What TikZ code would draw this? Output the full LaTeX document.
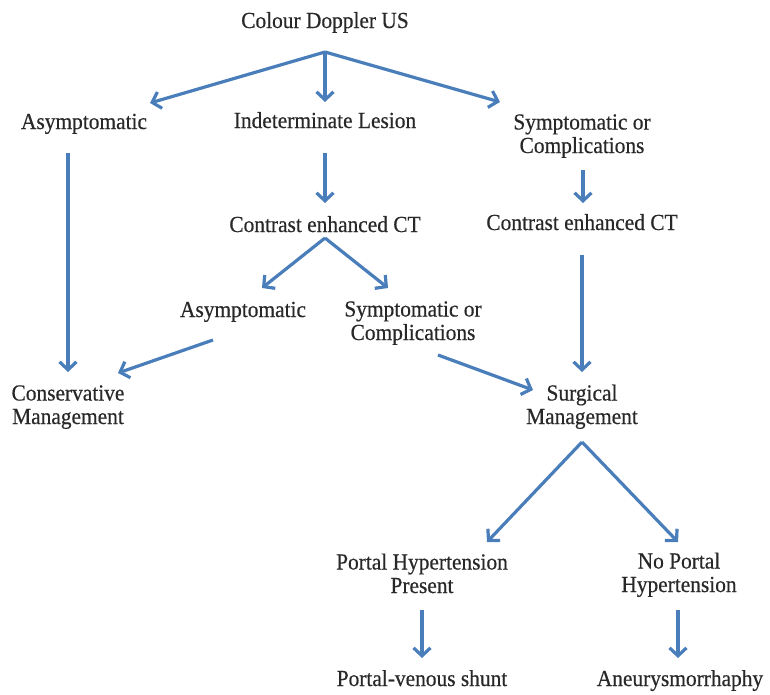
\documentclass[tikz,border=0pt]{standalone}
\usepackage{fontspec}
\setmainfont[FakeBold=0.5,FakeStretch=0.93]{Liberation Serif}
\usetikzlibrary{arrows.meta,calc}
\definecolor{flowblue}{RGB}{74,126,187}
\definecolor{flowtext}{RGB}{40,40,40}
\begin{document}
\begin{tikzpicture}[x=1pt,y=-1pt,
    lbl/.style={font=\fontsize{23}{23.5}\selectfont, text=flowtext, align=center, inner sep=0pt, anchor=base},
    arr/.style={flowblue, line width=3.2pt, -{Straight Barb[length=8pt,width=17pt]}}]
  \useasboundingbox (0,0) rectangle (770,694);
  % labels (two-line labels sit on the baseline of their last line)
  \node[lbl] (cd) at (325,28) {Colour Doppler US};
  \node[lbl] (asy1) at (84,129) {Asymptomatic};
  \node[lbl] (ind) at (325,128) {Indeterminate Lesion};
  \node[lbl] (sym1) at (582,153) {Symptomatic or\\Complications};
  \node[lbl] (ct1) at (325,232) {Contrast enhanced CT};
  \node[lbl] (ct2) at (582,230) {Contrast enhanced CT};
  \node[lbl] (asy2) at (243,317) {Asymptomatic};
  \node[lbl] (sym2) at (413,340) {Symptomatic or\\Complications};
  \node[lbl] (cons) at (68,424) {Conservative\\Management};
  \node[lbl] (surg) at (582,424) {Surgical\\Management};
  \node[lbl] (pht) at (422,593) {Portal Hypertension\\Present};
  \node[lbl] (npht) at (679,592) {No Portal\\Hypertension};
  \node[lbl] (pvs) at (422,686) {Portal-venous shunt};
  \node[lbl] (aneu) at (680,686) {Aneurysmorrhaphy};
  % arrows
  \coordinate (cdfork) at ($(cd.base)+(0,24)$);
  \draw[arr] (cdfork) -- ($(asy1.base)+(66,-26)$);
  \draw[arr] (cdfork) -- ($(ind.base)+(0,-26)$);
  \draw[arr] (cdfork) -- ($(sym1.base)+(-82,-51)$);
  \draw[arr] ($(asy1.base)+(-16,24)$) -- ($(cons.base)+(0,-52)$);
  \draw[arr] ($(ind.base)+(0,25)$) -- ($(ct1.base)+(0,-29)$);
  \draw[arr] ($(sym1.base)+(1,17)$) -- ($(ct2.base)+(1,-27)$);
  \coordinate (ctfork) at ($(ct1.base)+(0,6)$);
  \draw[arr] (ctfork) -- ($(asy2.base)+(19,-29)$);
  \draw[arr] (ctfork) -- ($(sym2.base)+(-25,-52)$);
  \draw[arr] ($(ct2.base)+(0,25)$) -- ($(surg.base)+(0,-52)$);
  \draw[arr] ($(asy2.base)+(-30,23)$) -- ($(cons.base)+(50,-51)$);
  \draw[arr] ($(sym2.base)+(25,15)$) -- ($(surg.base)+(-49,-34)$);
  \coordinate (surgfork) at ($(surg.base)+(0,18)$);
  \draw[arr] (surgfork) -- ($(pht.base)+(65,-51)$);
  \draw[arr] (surgfork) -- ($(npht.base)+(-1,-50)$);
  \draw[arr] ($(pht.base)+(0,17)$) -- ($(pvs.base)+(0,-28)$);
  \draw[arr] ($(npht.base)+(-1,18)$) -- ($(aneu.base)+(-2,-28)$);
\end{tikzpicture}
\end{document}
